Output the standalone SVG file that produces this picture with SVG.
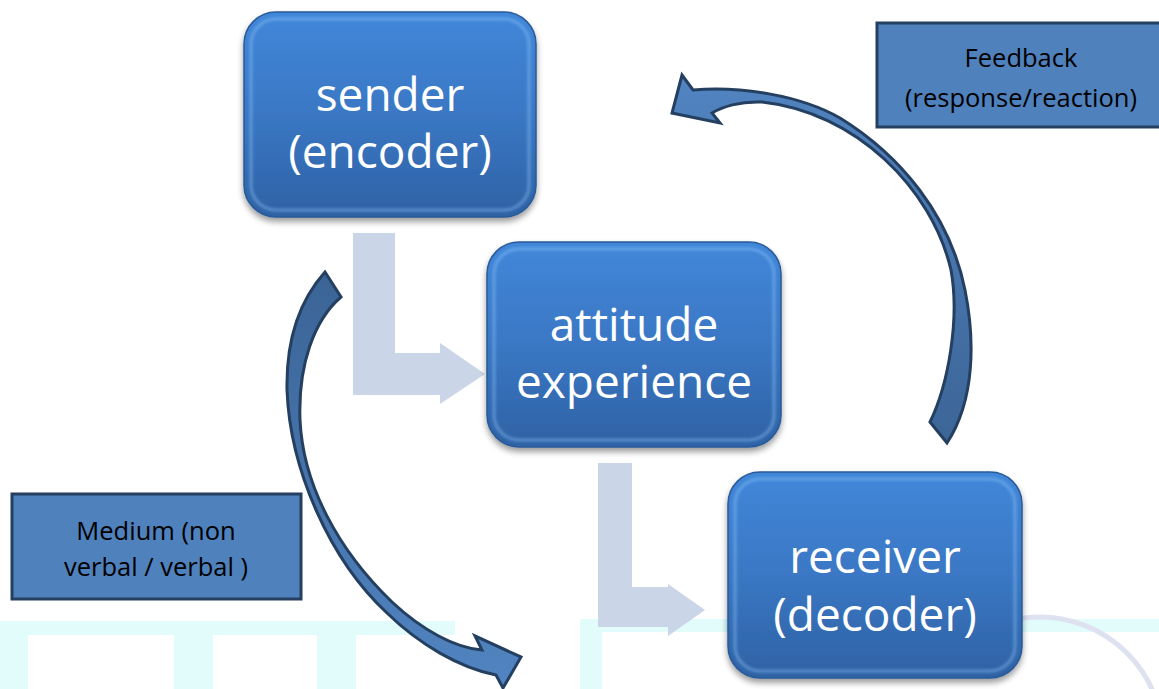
<svg xmlns="http://www.w3.org/2000/svg" width="1159" height="689" viewBox="0 0 1159 689">
<defs>
  <linearGradient id="boxg" x1="0" y1="0" x2="0" y2="1">
    <stop offset="0" stop-color="#4187d9"/>
    <stop offset="0.5" stop-color="#3a77c4"/>
    <stop offset="1" stop-color="#2e62a4"/>
  </linearGradient>
  <linearGradient id="arrR" x1="0" y1="0" x2="0" y2="1">
    <stop offset="0" stop-color="#5184c1"/>
    <stop offset="1" stop-color="#3c6597"/>
  </linearGradient>
  <linearGradient id="arrL" x1="0" y1="0" x2="0" y2="1">
    <stop offset="0" stop-color="#3b6496"/>
    <stop offset="1" stop-color="#5184c1"/>
  </linearGradient>
  <filter id="sh" x="-10%" y="-10%" width="120%" height="125%">
    <feGaussianBlur in="SourceAlpha" stdDeviation="3"/>
    <feOffset dy="4"/>
    <feComponentTransfer><feFuncA type="linear" slope="0.4"/></feComponentTransfer>
    <feMerge><feMergeNode/><feMergeNode in="SourceGraphic"/></feMerge>
  </filter>
  <filter id="soft" x="-5%" y="-5%" width="110%" height="110%"><feGaussianBlur stdDeviation="1.6"/></filter>
  <clipPath id="wmclip"><rect x="1022" y="560" width="137" height="129"/></clipPath>
  <style>
    .box { fill: url(#boxg); stroke: #2a5a98; stroke-width: 1.5; }
    .bevel { fill: none; stroke: #8cc4fa; stroke-opacity: 0.55; stroke-width: 2.5; }
    .big { font-family: "Open Sans", "Noto Sans", sans-serif; font-size: 46px; fill: #ffffff; text-anchor: middle; }
    .lbl { fill: #4f81bd; stroke: #243f60; stroke-width: 3; }
    .small { font-family: "Open Sans", "Noto Sans", sans-serif; font-size: 25.5px; fill: #000000; text-anchor: middle; }
    .larrow { fill: #cbd5e8; }
    .carrow { stroke: #243f60; stroke-width: 3; stroke-linejoin: miter; }
    .wm { fill: #e2fcfc; }
  </style>
</defs>

<rect width="1159" height="689" fill="#ffffff"/>

<!-- faint watermark -->
<g id="watermark">
  <rect class="wm" x="0" y="621" width="455" height="14"/>
  <rect class="wm" x="0" y="621" width="28" height="68"/>
  <rect class="wm" x="174" y="621" width="39" height="68"/>
  <rect class="wm" x="317" y="621" width="39" height="68"/>
  <rect class="wm" x="580" y="619" width="150" height="13"/>
  <rect class="wm" x="580" y="619" width="22" height="70"/>
  <rect class="wm" x="1022" y="619" width="137" height="13"/>
  <circle cx="1040" cy="740" r="123" fill="none" stroke="#dde1f0" stroke-width="5" clip-path="url(#wmclip)"/>
</g>

<!-- connectors -->
<g id="connectors">
  <polygon class="larrow" points="353,233 395,233 395,353 440,353 440,343 485,374 440,404 440,395 353,395"/>
  <polygon class="larrow" points="598,463 632,463 632,587 668,587 668,584 705,610 668,636 668,627 598,627"/>
  <path class="carrow" fill="url(#arrL)" d="M325,272 L341,297 C314,320 298,365 300,420 C303,485 338,550 392,602 C422,630 455,648 482,650 L475,636 L521,657 L503,688 L496,675 C460,668 420,645 387,613 C330,560 290,470 287,390 C286,340 300,300 325,272 Z"/>
  <path class="carrow" fill="url(#arrR)" d="M930,422 C948,385 960,320 951,270 C932,188 855,112 762,102 C740,101 722,107 712,113 L720,123 L672,113 L682,75 L693,90 C740,86 800,95 840,118 C900,155 950,215 965,290 C975,340 975,400 947,443 Z"/>
</g>

<g id="sender">
  <rect class="box" x="244" y="12" width="292" height="205" rx="32" filter="url(#sh)"/>
  <rect class="bevel" x="251" y="19" width="278" height="191" rx="25" filter="url(#soft)"/>
  <text class="big" x="390" y="111">sender</text>
  <text class="big" x="390" y="168">(encoder)</text>
</g>

<g id="attitude">
  <rect class="box" x="487" y="242" width="294" height="205" rx="32" filter="url(#sh)"/>
  <rect class="bevel" x="494" y="249" width="280" height="191" rx="25" filter="url(#soft)"/>
  <text class="big" x="634" y="341">attitude</text>
  <text class="big" x="634" y="398">experience</text>
</g>

<g id="receiver">
  <rect class="box" x="728" y="472" width="294" height="206" rx="32" filter="url(#sh)"/>
  <rect class="bevel" x="735" y="479" width="280" height="192" rx="25" filter="url(#soft)"/>
  <text class="big" x="875" y="573">receiver</text>
  <text class="big" x="875" y="631">(decoder)</text>
</g>

<g id="feedback">
  <rect class="lbl" x="877" y="23" width="290" height="104"/>
  <text class="small" x="1021" y="67">Feedback</text>
  <text class="small" x="1021" y="107">(response/reaction)</text>
</g>

<g id="medium">
  <rect class="lbl" x="12" y="494" width="289" height="105"/>
  <text class="small" x="156" y="540">Medium (non</text>
  <text class="small" x="156" y="576">verbal / verbal )</text>
</g>
</svg>
